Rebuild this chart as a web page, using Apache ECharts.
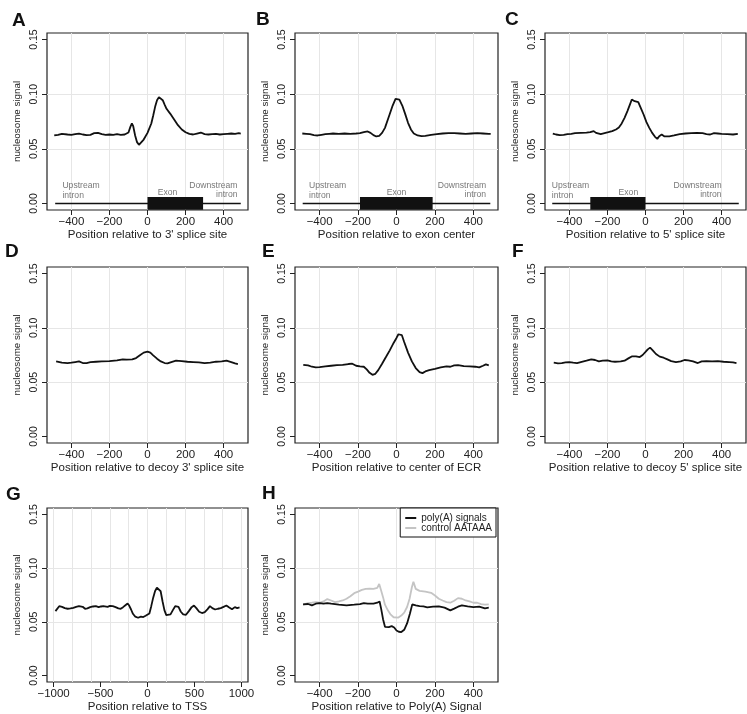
<!DOCTYPE html>
<html>
<head>
<meta charset="utf-8">
<script src="https://cdn.jsdelivr.net/npm/echarts@6/dist/echarts.min.js"></script>
<style>html,body{margin:0;padding:0;background:#fff}#c{width:747px;height:714px}</style>
</head>
<body>
<div id="c"></div>
<script>
// ---------------- data ----------------
const xA = [-490,-470,-450,-440,-420,-400,-380,-360,-340,-320,-300,-280,-260,-240,-220,-200,-180,-160,-140,-120,-110,-100,-90,-82,-75,-65,-55,-45,-35,-20,0,20,30,40,50,60,70,80,90,100,120,140,160,180,200,220,240,260,280,300,320,340,360,380,400,420,440,460,480,490];
const yA = [0.0622,0.0628,0.0637,0.064,0.0631,0.0628,0.0634,0.064,0.0631,0.0625,0.0628,0.0643,0.0646,0.0634,0.0628,0.0631,0.0628,0.0634,0.0628,0.0631,0.0634,0.0649,0.0701,0.0732,0.0707,0.0622,0.0561,0.0537,0.0546,0.0585,0.0646,0.0732,0.0805,0.0884,0.0945,0.0973,0.0963,0.0945,0.0905,0.0866,0.082,0.0768,0.0716,0.0677,0.0652,0.0637,0.0631,0.064,0.0649,0.0634,0.0631,0.0634,0.0637,0.0631,0.0634,0.0637,0.064,0.0637,0.0643,0.064];

const xB = [-490,-470,-450,-430,-410,-390,-370,-350,-330,-300,-270,-240,-210,-190,-170,-150,-135,-120,-105,-90,-75,-60,-40,-20,-5,5,15,30,45,60,75,90,110,130,150,180,210,240,270,300,330,360,390,420,450,480,490];
const yB = [0.064,0.0637,0.0634,0.0625,0.0622,0.0628,0.0634,0.0637,0.064,0.0637,0.064,0.0637,0.064,0.0643,0.0652,0.0659,0.0646,0.0625,0.0613,0.0619,0.0646,0.0692,0.0793,0.0896,0.0957,0.0963,0.0951,0.0896,0.082,0.0738,0.0677,0.064,0.0622,0.0616,0.0619,0.0628,0.0634,0.064,0.0643,0.0643,0.064,0.0637,0.064,0.0643,0.064,0.0637,0.0637];

const xC = [-487,-470,-450,-430,-410,-390,-370,-340,-310,-290,-272,-260,-250,-235,-215,-195,-175,-155,-140,-125,-110,-95,-82,-72,-65,-57,-48,-38,-25,-10,5,20,35,50,62,72,85,100,125,150,180,210,240,270,300,320,340,360,380,400,430,460,485];
const yC = [0.064,0.0631,0.0625,0.0628,0.0634,0.0637,0.0643,0.0646,0.0649,0.0652,0.0662,0.0646,0.0631,0.0634,0.0643,0.0652,0.0662,0.0677,0.0695,0.0732,0.0784,0.0845,0.0905,0.0951,0.0966,0.0936,0.0942,0.0927,0.0875,0.0814,0.0744,0.0692,0.0646,0.061,0.0591,0.0616,0.0631,0.0613,0.0613,0.0622,0.0634,0.064,0.0643,0.0646,0.0643,0.0634,0.0631,0.0643,0.064,0.0637,0.0634,0.0631,0.0637];

const xD = [-480,-450,-420,-400,-380,-360,-340,-320,-300,-270,-240,-200,-160,-130,-110,-80,-60,-40,-20,0,15,30,50,70,90,105,125,150,180,210,240,270,300,330,360,390,415,440,460,475];
const yD = [0.0691,0.0679,0.0676,0.0679,0.0685,0.0691,0.0676,0.0676,0.0685,0.0688,0.0691,0.0694,0.0701,0.071,0.0707,0.071,0.0722,0.0747,0.0772,0.0781,0.0772,0.0747,0.0716,0.0691,0.0676,0.0673,0.0685,0.0698,0.0694,0.0688,0.0685,0.0682,0.0676,0.0679,0.0688,0.0691,0.0698,0.0685,0.0673,0.0667];

const xE = [-485,-460,-440,-420,-400,-370,-340,-310,-280,-250,-230,-210,-190,-170,-155,-140,-125,-110,-95,-75,-55,-35,-15,0,10,18,28,40,60,80,100,120,135,150,170,200,230,260,280,300,320,350,380,410,430,450,465,480];
const yE = [0.066,0.0654,0.0642,0.0636,0.0639,0.0645,0.0651,0.0657,0.066,0.0667,0.067,0.0651,0.0645,0.0642,0.0617,0.0586,0.0568,0.0577,0.0611,0.067,0.0731,0.0793,0.0861,0.0907,0.0941,0.0951,0.0932,0.087,0.0772,0.0691,0.063,0.0593,0.0583,0.0599,0.0611,0.0623,0.0636,0.0645,0.0642,0.0654,0.0657,0.0648,0.0645,0.0642,0.0636,0.0651,0.0664,0.0654];

const xF = [-482,-460,-440,-420,-400,-380,-360,-340,-310,-285,-265,-245,-225,-200,-180,-160,-130,-110,-90,-70,-50,-30,-15,0,12,24,38,55,75,95,115,135,160,185,205,225,250,275,295,320,350,380,410,440,460,478];
const yF = [0.0679,0.0673,0.0676,0.0682,0.0685,0.0679,0.0676,0.0685,0.0698,0.071,0.0704,0.0691,0.0698,0.0701,0.0691,0.0688,0.0691,0.0698,0.0719,0.0738,0.0738,0.0731,0.075,0.0778,0.0802,0.0818,0.0793,0.0759,0.0735,0.0725,0.071,0.0694,0.0685,0.0691,0.0704,0.0701,0.0691,0.0676,0.0691,0.0694,0.0691,0.0694,0.0688,0.0685,0.0682,0.0676];

const xG = [-980,-960,-940,-910,-880,-850,-820,-790,-760,-730,-710,-690,-665,-640,-610,-580,-550,-520,-495,-470,-450,-425,-400,-370,-340,-310,-285,-260,-235,-212,-195,-175,-155,-130,-100,-70,-45,-20,0,20,40,60,80,100,120,140,160,180,200,220,245,270,295,312,330,355,380,410,440,470,495,520,550,580,610,640,665,690,720,750,780,810,840,870,900,930,955,980];
const yG = [0.06,0.0615,0.0646,0.064,0.0628,0.0622,0.0625,0.0631,0.064,0.0646,0.0655,0.064,0.0622,0.0625,0.0637,0.0643,0.0646,0.0637,0.0643,0.0646,0.0628,0.064,0.0649,0.0646,0.0637,0.0625,0.0622,0.0637,0.0655,0.0671,0.0652,0.0615,0.0575,0.0548,0.0538,0.0548,0.0545,0.0557,0.0554,0.0578,0.0646,0.0723,0.0785,0.0818,0.0828,0.0785,0.0692,0.0609,0.0563,0.0554,0.0569,0.0609,0.0646,0.0658,0.064,0.0594,0.0569,0.0566,0.06,0.0637,0.0652,0.0628,0.0594,0.0582,0.0591,0.0618,0.0646,0.0628,0.0615,0.0622,0.0628,0.064,0.0652,0.0634,0.0618,0.0637,0.0628,0.0634];

const xHpoly = [-486,-460,-440,-420,-400,-380,-360,-340,-300,-260,-220,-190,-170,-150,-120,-100,-88,-80,-70,-60,-40,-25,-12,0,12,25,40,55,70,82,100,120,140,160,190,220,250,280,300,320,340,370,400,430,460,480];
const yHpoly = [0.0663,0.0666,0.0653,0.0669,0.0675,0.0669,0.0675,0.0669,0.066,0.0653,0.066,0.0666,0.0675,0.0669,0.0669,0.0678,0.069,0.0623,0.0525,0.0454,0.0451,0.046,0.0448,0.042,0.0408,0.0405,0.0426,0.0485,0.0577,0.0663,0.0653,0.0647,0.0644,0.0635,0.0641,0.0644,0.0632,0.0607,0.0623,0.0641,0.0653,0.0644,0.0638,0.0641,0.0626,0.0632];

const xHctrl = [-486,-460,-440,-420,-400,-380,-360,-340,-320,-300,-280,-260,-240,-220,-200,-180,-160,-140,-120,-100,-90,-80,-70,-60,-45,-30,-15,-5,10,25,40,55,68,80,88,100,120,150,180,200,220,240,260,280,300,320,340,360,380,400,420,440,460,480];
const yHctrl = [0.066,0.0675,0.0678,0.0684,0.0678,0.069,0.0712,0.0699,0.0684,0.069,0.0699,0.0715,0.0739,0.0767,0.0782,0.0798,0.0807,0.081,0.0807,0.0816,0.0853,0.0791,0.073,0.066,0.0607,0.0567,0.0543,0.0531,0.054,0.0558,0.0586,0.0638,0.0715,0.0822,0.0874,0.0807,0.0788,0.0782,0.077,0.0745,0.0715,0.0699,0.0684,0.0678,0.0696,0.0721,0.0715,0.0699,0.069,0.0678,0.0678,0.0666,0.066,0.0663];

// exon diagrams (panels A, B, C)
const exonStart = [0, -190, -290];
const exonEnd = [292, 188, 0];
const trackStart = [-485, -488, -490];
const trackEnd = [490, 488, 490];

// axis ticks / gridlines
const yTicks = [0, 0.05, 0.10, 0.15];
const yGridVals = [0.05, 0.10];
const xTicks = [-400, -200, 0, 200, 400];
const xTicksTSS = [-1000, -500, 0, 500, 1000];
const xGridTSS = [-1000, -800, -600, -400, -200, 0, 200, 400, 600, 800, 1000];

const seriesNames = ['poly(A) signals', 'control AATAAA'];
const letters = ['A','B','C','D','E','F','G','H'];
const xNames = ["Position relative to 3' splice site", "Position relative to exon center", "Position relative to 5' splice site",
  "Position relative to decoy 3' splice site", "Position relative to center of ECR", "Position relative to decoy 5' splice site",
  "Position relative to TSS", "Position relative to Poly(A) Signal"];

// ---------------- layout ----------------
const FONT = '"Liberation Sans", Arial, Helvetica, sans-serif';
const cols = [{left:47,width:201},{left:295,width:203},{left:545,width:201}];
const rows = [{top:33,height:177},{top:267,height:176},{top:508,height:176}];
const letterPos = [[12,11],[256,10],[505,10],[5,242],[262,242],[512,242],[6,485],[262,484]];

const pairs = (xs, ys) => xs.map((x, i) => [x, ys[i]]);
const curves = [
  [pairs(xA,yA)], [pairs(xB,yB)], [pairs(xC,yC)],
  [pairs(xD,yD)], [pairs(xE,yE)], [pairs(xF,yF)],
  [pairs(xG,yG)], [pairs(xHpoly,yHpoly), pairs(xHctrl,yHctrl)]
];

const grids = [], xAxes = [], yAxes = [], series = [], titles = [];
const minus = v => String(v).replace('-', '\u2212');

for (let i = 0; i < 8; i++) {
  const c = cols[i % 3], r = rows[Math.floor(i / 3)];
  const isTSS = i === 6;
  grids.push({left:c.left, top:r.top, width:c.width, height:r.height, show:true, borderColor:'#222', borderWidth:1.2, backgroundColor:'transparent'});
  const ticks = isTSS ? xTicksTSS : xTicks;
  xAxes.push({
    type:'value', gridIndex:i, min: isTSS ? -1070 : -528, max: isTSS ? 1070 : 528, position:'bottom',
    axisLine:{show:false, onZero:false}, splitLine:{show:false},
    axisTick:{show:true, length:5, customValues:ticks, lineStyle:{color:'#222', width:1}},
    axisLabel:{show:true, customValues:ticks, margin:6, fontFamily:FONT, fontSize:11.5, color:'#222', formatter:minus},
    name:xNames[i], nameLocation:'middle', nameGap:19,
    nameTextStyle:{fontFamily:FONT, fontSize:11.5, color:'#222'}
  });
  yAxes.push({
    type:'value', gridIndex:i, min:-0.006, max:0.156, position:'left',
    axisLine:{show:false, onZero:false}, splitLine:{show:false},
    axisTick:{show:true, length:5, customValues:yTicks, lineStyle:{color:'#222', width:1}},
    axisLabel:{show:true, customValues:yTicks, rotate:90, margin:7, fontFamily:FONT, fontSize:10.5, color:'#222', formatter:v => v.toFixed(2)},
    name:'nucleosome signal', nameLocation:'middle', nameRotate:90, nameGap:25,
    nameTextStyle:{fontFamily:FONT, fontSize:9.8, color:'#222'}
  });
  // gridlines
  const gx = isTSS ? xGridTSS : xTicks;
  series.push({
    type:'line', xAxisIndex:i, yAxisIndex:i, data:[], z:1, silent:true,
    markLine:{silent:true, symbol:'none', animation:false, z:1, label:{show:false},
      lineStyle:{color:'#e6e6e6', width:1, type:'solid'},
      data: gx.map(v => ({xAxis:v})).concat(yGridVals.map(v => ({yAxis:v})))}
  });
  // exon diagram
  if (i < 3) {
    series.push({
      type:'line', xAxisIndex:i, yAxisIndex:i, z:3, symbol:'none', silent:true,
      data:[[trackStart[i],0],[trackEnd[i],0]], lineStyle:{color:'#111', width:1.4},
      markArea:{silent:true, z:4, itemStyle:{color:'#111', opacity:1},
        data:[[{coord:[exonStart[i], -0.0058]}, {coord:[exonEnd[i], 0.0058]}]]}
    });
    const ann = [
      [[-447,-455,-492][i], 0.0117, 'Upstream\nintron', 'left'],
      [[105,0,-90][i], 0.0099, 'Exon', 'center'],
      [[473,466,400][i], 0.0123, 'Downstream\nintron', 'right']
    ];
    series.push({
      type:'scatter', xAxisIndex:i, yAxisIndex:i, z:4, silent:true, symbolSize:1,
      itemStyle:{color:'transparent'},
      data: ann.map(a => ({value:[a[0], a[1]], name:a[2], label:{align:a[3]}})),
      label:{show:true, position:'inside', formatter:'{b}', verticalAlign:'middle',
        fontFamily:FONT, fontSize:8.6, lineHeight:9.7, color:'#555'}
    });
  }
  // curves
  if (i < 7) {
    series.push({type:'line', xAxisIndex:i, yAxisIndex:i, z:5, symbol:'none', silent:true,
      data:curves[i][0], lineStyle:{color:'#111', width:1.8}});
  } else {
    series.push({type:'line', name:seriesNames[1], xAxisIndex:i, yAxisIndex:i, z:4, symbol:'none', silent:true,
      data:curves[i][1], lineStyle:{color:'#c4c4c4', width:1.8}, itemStyle:{color:'#c4c4c4'}});
    series.push({type:'line', name:seriesNames[0], xAxisIndex:i, yAxisIndex:i, z:5, symbol:'none', silent:true,
      data:curves[i][0], lineStyle:{color:'#111', width:1.8}, itemStyle:{color:'#111'}});
  }
  titles.push({text:letters[i], left:letterPos[i][0], top:letterPos[i][1], padding:0,
    textStyle:{fontFamily:FONT, fontSize:19, fontWeight:'bold', color:'#111'}});
}

const chart = echarts.init(document.getElementById('c'), null, {renderer:'canvas'});
chart.setOption({
  animation:false,
  backgroundColor:'#fff',
  title:titles,
  grid:grids, xAxis:xAxes, yAxis:yAxes, series:series,
  legend:{data:seriesNames, orient:'vertical', right:251, top:508, backgroundColor:'#fff',
    borderColor:'#111', borderWidth:1, borderRadius:0, padding:[5,4,4,5], itemGap:0,
    icon:'rect', itemWidth:11, itemHeight:2, selectedMode:false, align:'left',
    textStyle:{fontFamily:FONT, fontSize:10, color:'#222', lineHeight:10, padding:[0,0,0,0]}}
});
</script>
</body>
</html>
